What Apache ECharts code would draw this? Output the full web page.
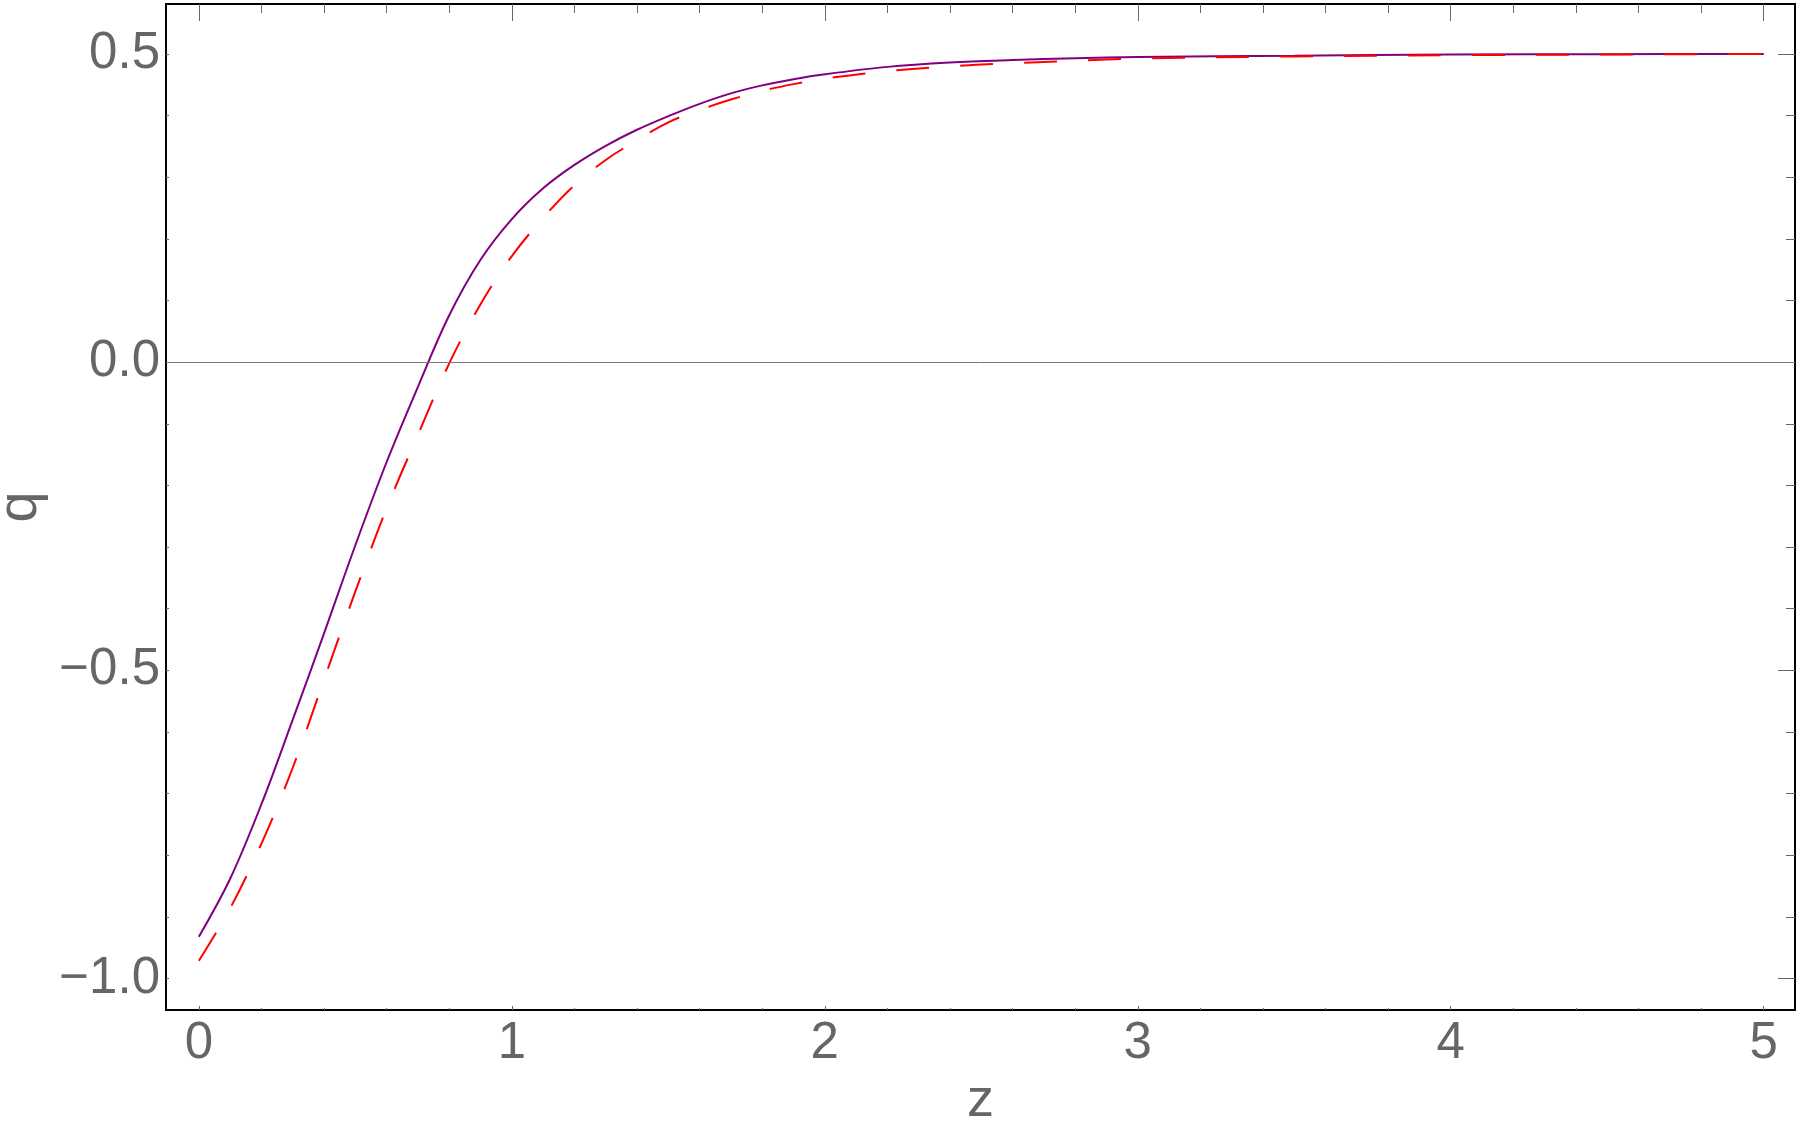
<!DOCTYPE html>
<html>
<head>
<meta charset="utf-8">
<title>q(z)</title>
<script src="https://cdn.jsdelivr.net/npm/echarts@6/dist/echarts.min.js"></script>
<style>
  html, body { margin: 0; padding: 0; background: #fff; }
  #chart { width: 1800px; height: 1127px; }
</style>
</head>
<body>
<div id="chart"></div>
<script>
// values
const zValues = [0, 0.1, 0.2, 0.3, 0.4, 0.5, 0.6, 0.7, 0.8, 0.9, 1.0, 1.1, 1.2, 1.3, 1.4, 1.5, 1.6, 1.7, 1.8, 1.9, 2.0, 2.2, 2.4, 2.6, 2.8, 3.0, 3.5, 4.0, 4.5, 5.0]
const qSolid = [-0.932, -0.838, -0.717, -0.580, -0.440, -0.297, -0.162, -0.040, 0.076, 0.166, 0.232, 0.282, 0.320, 0.351, 0.377, 0.399, 0.419, 0.436, 0.449, 0.459, 0.467, 0.479, 0.486, 0.490, 0.493, 0.495, 0.497, 0.499, 0.4995, 0.500]
const qDashed = [-0.971, -0.886, -0.781, -0.658, -0.515, -0.372, -0.237, -0.118, -0.002, 0.094, 0.172, 0.234, 0.287, 0.328, 0.360, 0.389, 0.409, 0.426, 0.440, 0.451, 0.460, 0.472, 0.480, 0.485, 0.489, 0.4925, 0.496, 0.498, 0.499, 0.500]

const xMajor = [0, 1, 2, 3, 4, 5]
const xMinor = [0.2, 0.4, 0.6, 0.8, 1.2, 1.4, 1.6, 1.8, 2.2, 2.4, 2.6, 2.8, 3.2, 3.4, 3.6, 3.8, 4.2, 4.4, 4.6, 4.8]
const yMajor = [-1.0, -0.5, 0.0, 0.5]
const yMinor = [-0.9, -0.8, -0.7, -0.6, -0.4, -0.3, -0.2, -0.1, 0.1, 0.2, 0.3, 0.4]

const X_MIN = -0.105, X_MAX = 5.1
const Y_MIN = -1.051, Y_MAX = 0.581

const gray = '#666666'
const font = 'Liberation Sans, Arial, Helvetica, sans-serif'

const frameLine = { show: true, onZero: false, lineStyle: { color: '#000', width: 2 } }
const noLine = { show: false, onZero: false }

// one axis per side for the major ticks (with frame line), one more for the minor ticks
const xAxisOf = (position, ticks, len, withLine, labels) => ({
  type: 'value', position, min: X_MIN, max: X_MAX,
  axisLine: withLine ? frameLine : noLine,
  axisTick: { show: true, inside: true, length: len, customValues: ticks, lineStyle: { color: gray, width: 1 } },
  axisLabel: labels
    ? { show: true, customValues: xMajor, margin: 8, color: gray, fontSize: 51, fontFamily: font, formatter: v => String(v) }
    : { show: false },
  splitLine: { show: false },
  minorTick: { show: false }
})
const yAxisOf = (position, ticks, len, withLine, labels) => ({
  type: 'value', position, min: Y_MIN, max: Y_MAX,
  axisLine: withLine ? frameLine : noLine,
  axisTick: { show: true, inside: true, length: len, customValues: ticks, lineStyle: { color: gray, width: 1 } },
  axisLabel: labels
    ? { show: true, customValues: yMajor, margin: 6, color: gray, fontSize: 51, fontFamily: font, formatter: v => v.toFixed(1).replace('-', '\u2212') }
    : { show: false },
  splitLine: { show: false },
  minorTick: { show: false }
})

const xBottom = xAxisOf('bottom', xMajor, 4, true, true)
xBottom.name = 'z'
xBottom.nameLocation = 'middle'
xBottom.nameGap = 60
xBottom.nameTextStyle = { color: gray, fontSize: 54, fontFamily: font }

const yLeft = yAxisOf('left', yMajor, 3, true, true)
yLeft.name = 'q'
yLeft.nameLocation = 'middle'
yLeft.nameGap = 107
yLeft.nameTextStyle = { color: gray, fontSize: 56, fontFamily: font }

const chart = echarts.init(document.getElementById('chart'), null, { renderer: 'canvas' })

chart.setOption({
  animation: false,
  backgroundColor: '#fff',
  grid: { left: 166, right: 5, top: 4, bottom: 117, containLabel: false, outerBoundsMode: 'none' },
  xAxis: [
    xBottom,
    xAxisOf('bottom', xMinor, 2, false, false),
    xAxisOf('top', xMajor, 17, true, false),
    xAxisOf('top', xMinor, 9, false, false)
  ],
  yAxis: [
    yLeft,
    yAxisOf('left', yMinor, 3, false, false),
    yAxisOf('right', yMajor, 17, true, false),
    yAxisOf('right', yMinor, 9, false, false)
  ],
  series: [
    {
      type: 'line',
      xAxisIndex: 0, yAxisIndex: 0,
      data: zValues.map((z, i) => [z, qSolid[i]]),
      smooth: 0.35,
      symbol: 'none',
      lineStyle: { color: '#800080', width: 2 },
      markLine: {
        silent: true,
        symbol: 'none',
        label: { show: false },
        lineStyle: { color: '#777', width: 1, type: 'solid' },
        data: [{ yAxis: 0 }]
      },
      z: 2
    },
    {
      type: 'line',
      xAxisIndex: 0, yAxisIndex: 0,
      data: zValues.map((z, i) => [z, qDashed[i]]),
      smooth: 0.35,
      symbol: 'none',
      lineStyle: { color: '#ff0000', width: 2, type: [33, 31] },
      z: 3
    }
  ]
})
</script>
</body>
</html>
